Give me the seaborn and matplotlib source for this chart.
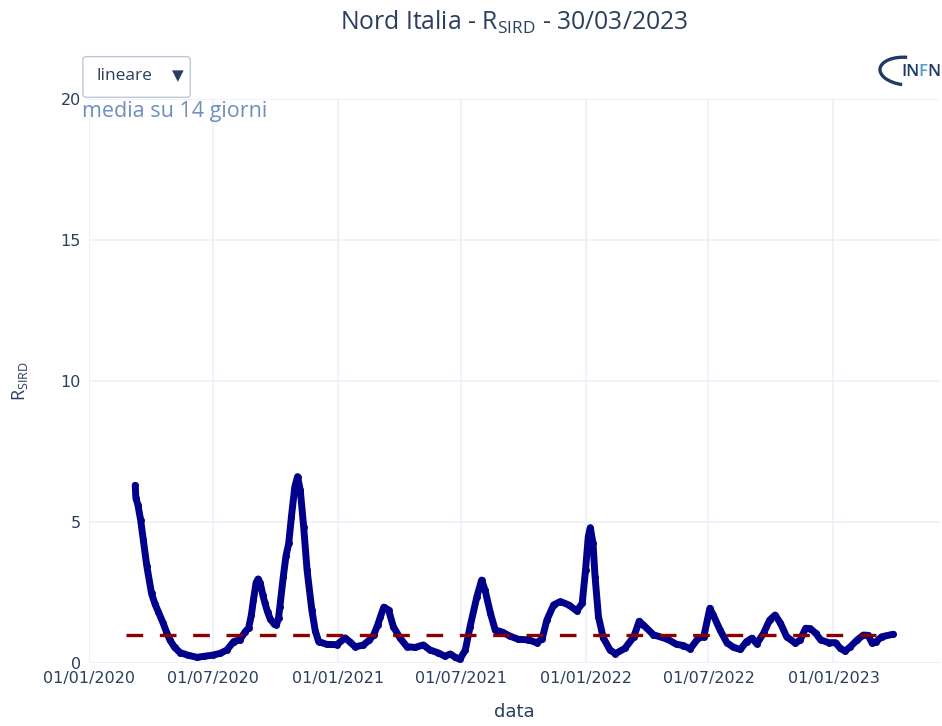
import matplotlib
matplotlib.use('Agg')
import matplotlib.pyplot as plt
import matplotlib.dates as mdates
from matplotlib.patches import FancyBboxPatch, Arc
import pandas as pd
import seaborn as sns

# R_SIRD, 14-day average
dates = [
    "2020-03-09", "2020-03-10", "2020-03-13", "2020-03-17", "2020-03-21", "2020-03-26",
    "2020-04-02", "2020-04-07", "2020-04-12", "2020-04-19", "2020-04-24", "2020-04-29",
    "2020-05-06", "2020-05-14", "2020-05-25", "2020-06-08", "2020-06-19", "2020-07-01",
    "2020-07-12", "2020-07-22", "2020-08-01", "2020-08-10", "2020-08-18", "2020-08-23",
    "2020-08-27", "2020-08-30", "2020-09-03", "2020-09-06", "2020-09-09", "2020-09-13",
    "2020-09-16", "2020-09-20", "2020-09-24", "2020-09-29", "2020-10-03", "2020-10-06",
    "2020-10-08", "2020-10-13", "2020-10-17", "2020-10-21", "2020-10-25", "2020-10-30",
    "2020-11-03", "2020-11-07", "2020-11-12", "2020-11-17", "2020-11-24", "2020-11-29",
    "2020-12-04", "2020-12-16", "2020-12-31", "2021-01-12", "2021-01-19", "2021-01-27",
    "2021-02-08", "2021-02-16", "2021-02-23", "2021-03-01", "2021-03-05", "2021-03-10",
    "2021-03-17", "2021-03-24", "2021-04-03", "2021-04-13", "2021-04-25", "2021-05-07",
    "2021-05-17", "2021-05-29", "2021-06-08", "2021-06-16", "2021-06-23", "2021-06-30",
    "2021-07-08", "2021-07-15", "2021-07-25", "2021-08-01", "2021-08-06", "2021-08-14",
    "2021-08-21", "2021-08-31", "2021-09-12", "2021-09-24", "2021-10-09", "2021-10-21",
    "2021-10-29", "2021-11-05", "2021-11-15", "2021-11-25", "2021-12-07", "2021-12-19",
    "2021-12-27", "2022-01-01", "2022-01-05", "2022-01-08", "2022-01-12", "2022-01-15",
    "2022-01-20", "2022-01-27", "2022-02-06", "2022-02-14", "2022-02-28", "2022-03-13",
    "2022-03-21", "2022-03-27", "2022-04-11", "2022-05-01", "2022-05-15", "2022-05-25",
    "2022-06-04", "2022-06-16", "2022-06-24", "2022-07-03", "2022-07-08", "2022-07-18",
    "2022-07-28", "2022-08-07", "2022-08-17", "2022-08-26", "2022-09-03", "2022-09-10",
    "2022-09-20", "2022-09-29", "2022-10-07", "2022-10-15", "2022-10-24", "2022-11-06",
    "2022-11-13", "2022-11-21", "2022-11-28", "2022-12-06", "2022-12-13", "2022-12-25",
    "2023-01-04", "2023-01-11", "2023-01-18", "2023-01-26", "2023-02-05", "2023-02-14",
    "2023-02-21", "2023-02-27", "2023-03-05", "2023-03-13", "2023-03-30",
]
r_sird = [
    6.3, 5.85, 5.6, 5.07, 4.36, 3.45,
    2.47, 2.1, 1.82, 1.42, 1.1, 0.82,
    0.55, 0.37, 0.28, 0.2, 0.24, 0.28,
    0.34, 0.46, 0.76, 0.82, 1.11, 1.24,
    1.7, 2.23, 2.85, 2.98, 2.84, 2.4,
    2.12, 1.8, 1.55, 1.4, 1.35, 1.6,
    2.0, 3.06, 3.8, 4.24, 5.19, 6.25,
    6.61, 6.13, 4.83, 3.3, 1.88, 1.15,
    0.76, 0.66, 0.65, 0.89, 0.75, 0.57,
    0.64, 0.8, 0.99, 1.35, 1.64, 1.98,
    1.88, 1.29, 0.88, 0.58, 0.55, 0.64,
    0.46, 0.36, 0.24, 0.32, 0.2, 0.13,
    0.46, 1.29, 2.35, 2.94, 2.59, 1.76,
    1.17, 1.1, 0.95, 0.84, 0.82, 0.72,
    0.85, 1.52, 2.06, 2.18, 2.06, 1.85,
    2.11, 3.3, 4.48, 4.8, 4.24, 3.06,
    1.64, 0.9, 0.46, 0.33, 0.52, 0.93,
    1.48, 1.35, 1.0, 0.85, 0.66, 0.62,
    0.5, 0.88, 0.93, 1.94, 1.7, 1.17,
    0.72, 0.55, 0.48, 0.76, 0.88, 0.68,
    1.05, 1.52, 1.7, 1.41, 0.93, 0.7,
    0.82, 1.23, 1.22, 1.05, 0.82, 0.72,
    0.72, 0.52, 0.42, 0.58, 0.82, 0.99,
    0.98, 0.7, 0.76, 0.93, 1.02,
]
threshold_dates = ["2020-02-24", "2023-03-30"]
threshold = [1, 1]

xtick_dates = ["2020-01-01", "2020-07-01", "2021-01-01", "2021-07-01",
               "2022-01-01", "2022-07-01", "2023-01-01"]
ytick_values = [0, 5, 10, 15, 20]

text_col = "#2a3f5f"
grid_col = "#EBF0F8"

sns.set_theme(style="whitegrid")
plt.rcParams['font.family'] = ['Open Sans', 'DejaVu Sans']
plt.rcParams['mathtext.fontset'] = 'custom'
plt.rcParams['mathtext.rm'] = 'Open Sans'
plt.rcParams['mathtext.it'] = 'Open Sans'

df = pd.DataFrame({"data": pd.to_datetime(dates), "r": r_sird})
df_th = pd.DataFrame({"data": pd.to_datetime(threshold_dates), "r": threshold})

fig = plt.figure(figsize=(9.42, 7.26), dpi=100)
ax = fig.add_axes([0.0945, 0.0868, 0.9035, 0.7768])
ax.set_facecolor("white")

sns.lineplot(data=df, x="data", y="r", ax=ax, color="#00008B", linewidth=5,
             marker="o", markersize=5, markeredgewidth=0, zorder=3)
sns.lineplot(data=df_th, x="data", y="r", ax=ax, color="#8B0000", linewidth=2.4,
             dashes=False, zorder=4)
ax.lines[-1].set_dashes((5, 5))

ax.set_xlim(pd.Timestamp("2020-01-01"), pd.Timestamp("2023-06-07"))
ax.set_ylim(0, 20)
ax.set_xticks(pd.to_datetime(xtick_dates))
ax.xaxis.set_major_formatter(mdates.DateFormatter("%d/%m/%Y"))
ax.set_yticks(ytick_values)
ax.grid(True, color=grid_col, linewidth=1.2)
for s in ax.spines.values():
    s.set_visible(False)
ax.axhline(0, color=grid_col, linewidth=2.2, zorder=1)
ax.tick_params(axis="both", length=0, labelsize=11.5, colors=text_col, pad=6)
for lab in ax.get_xticklabels() + ax.get_yticklabels():
    lab.set_family("DejaVu Sans")

ax.set_xlabel("data", fontsize=13, color=text_col, labelpad=12,
              family="DejaVu Sans")
ax.set_ylabel(r"R$_{\mathrm{SIRD}}$", fontsize=13, color=text_col, labelpad=22)

fig.text(0.546, 0.969, r"Nord Italia - R$_{\mathrm{SIRD}}$ - 30/03/2023",
         ha="center", va="center", fontsize=17.8, color=text_col)

fig.text(0.087, 0.846, "media su 14 giorni", fontsize=15.5, color="#6f8fbf",
         ha="left", va="center")

# dropdown button
box = FancyBboxPatch((0.088, 0.866), 0.114, 0.056, transform=fig.transFigure,
                     boxstyle="round,pad=0,rounding_size=0.004",
                     facecolor="white", edgecolor="#BEC8D9", linewidth=1.0,
                     zorder=10)
fig.patches.append(box)
fig.text(0.102, 0.895, "lineare", fontsize=12.5, color=text_col, va="center",
         ha="left", zorder=11)
fig.text(0.189, 0.896, "▼", fontsize=11, color=text_col, va="center",
         ha="center", family="DejaVu Sans", zorder=11)

# INFN logo
logo = Arc((0.962, 0.902), 0.056, 0.038, angle=-8, theta1=95, theta2=265,
           transform=fig.transFigure, color="#1f3a68", linewidth=2.4)
fig.patches.append(logo)
fig.text(0.957, 0.901, "IN", fontsize=12, color="#1f3a68", weight="semibold",
         ha="left", va="center")
fig.text(0.9752, 0.901, "F", fontsize=12, color="#4a9fd4", weight="semibold",
         ha="left", va="center")
fig.text(0.9848, 0.901, "N", fontsize=12, color="#1f3a68", weight="semibold",
         ha="left", va="center")

fig.savefig("out.png", dpi=100)
